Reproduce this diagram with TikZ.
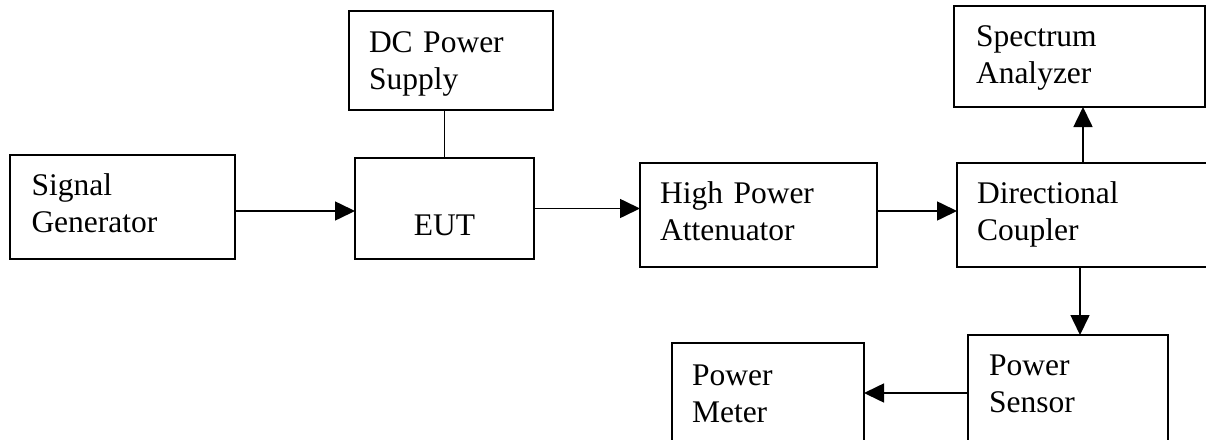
\documentclass[tikz,border=0pt]{standalone}
\usepackage{fontspec}
\setmainfont{Liberation Serif}
\usetikzlibrary{arrows.meta}

\begin{document}
\begin{tikzpicture}[x=1pt, y=-1pt,
    blk/.style={draw, line width=1.6pt, outer sep=0pt, inner ysep=0pt, anchor=north west, align=left, font=\fontsize{31.5}{37}\selectfont},
    arr/.style={line width=1.6pt, -{Triangle[length=20pt, width=19pt]}}]
        \clip (0,0) rectangle (1206,439);
        % boxes
        \node[blk, inner xsep=21.5pt, text width=182pt, text height=40pt, text depth=64pt] (sg) at (10,155) {Signal\\Generator};
        \node[blk, inner xsep=20pt, text width=164pt, text height=41pt, text depth=58pt] (dcps) at (349,11) {DC Power\\Supply};
        \node[blk, inner xsep=0pt, align=center, text width=179pt, text height=77pt, text depth=24pt] (eut) at (355,158) {EUT};
        \node[blk, inner xsep=20pt, text width=197pt, text height=40pt, text depth=64pt] (hpa) at (640,163) {High Power\\Attenuator};
        \node[blk, inner xsep=20pt, text width=212pt, text height=40pt, text depth=64pt] (dcoup) at (957,163) {Directional\\Coupler};
        \node[blk, inner xsep=22pt, text width=207pt, text height=40pt, text depth=61pt] (sa) at (954,6) {Spectrum\\Analyzer};
        \node[blk, inner xsep=21pt, text width=158pt, text height=40pt, text depth=76pt] (ps) at (968,335) {Power\\Sensor};
        \node[blk, inner xsep=20pt, text width=152pt, text height=42pt, text depth=75pt] (pm) at (672,343) {Power\\Meter};
        % connectors
        \draw[arr] ([yshift=-4pt]sg.east) -- ([yshift=-4pt]sg.east -| eut.west);
        \draw[line width=1.6pt] (eut.north) -- (eut.north |- dcps.south);
        \draw[arr] (eut.east) -- (eut.east -| hpa.west);
        \draw[arr] ([yshift=4pt]hpa.east) -- ([yshift=4pt]hpa.east -| dcoup.west);
        \draw[arr] (dcoup.north) -- (dcoup.north |- sa.south);
        \draw[arr] ([xshift=-3pt]dcoup.south) -- ([xshift=-3pt]dcoup.south |- ps.north);
        \draw[arr] (ps.west) -- (ps.west -| pm.east);
\end{tikzpicture}
\end{document}
